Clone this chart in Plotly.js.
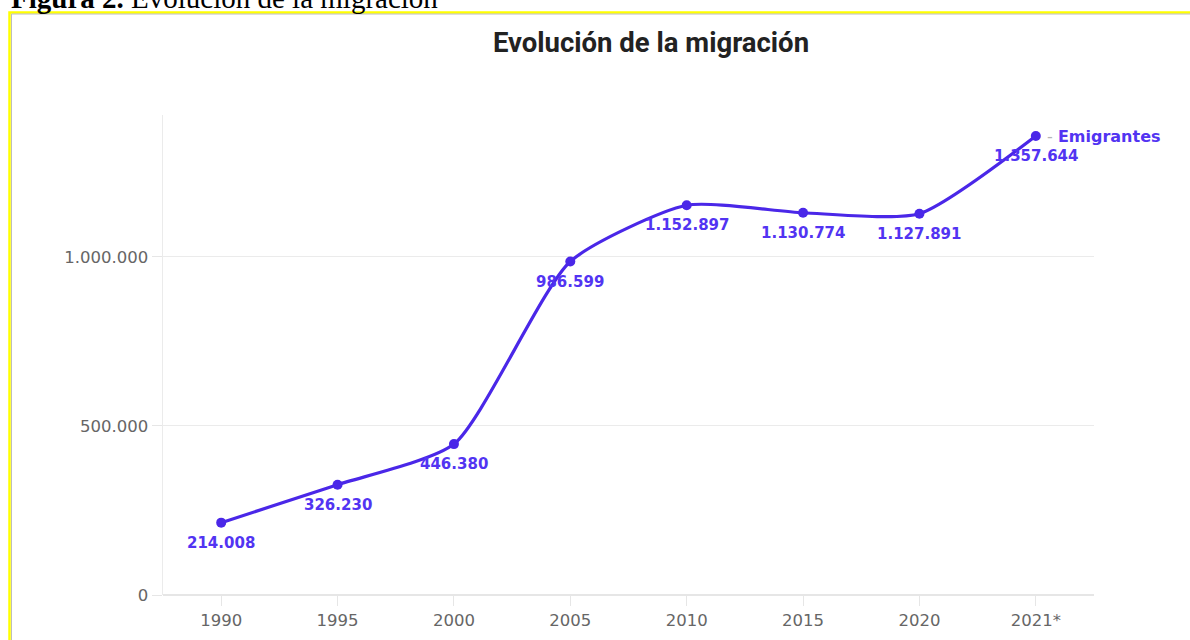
<!DOCTYPE html>
<html>
<head>
<meta charset="utf-8">
<script src="https://cdn.plot.ly/plotly-3.0.1.min.js"></script>
<style>
  html, body { margin: 0; padding: 0; background: #ffffff; }
  #chart { width: 1190px; height: 640px; }
</style>
</head>
<body>
<div id="chart"></div>
<script>
// ---- data ----
const years = ['1990', '1995', '2000', '2005', '2010', '2015', '2020', '2021*'];
const emigrantes = [214008, 326230, 446380, 986599, 1152897, 1130774, 1127891, 1357644];
const seriesName = 'Emigrantes';
const chartTitle = 'Evolución de la migración';
const captionBold = 'Figura 2.';
const captionText = ' Evolución de la migración';
const yTickValues = [0, 500000, 1000000];

// ---- layout helpers (pixel -> paper) ----
const W = 1190, H = 640;
const L = 163, R = 96, T = 115, B = 45;
const PW = W - L - R, PH = H - T - B;
const px = x => (x - L) / PW;
const py = y => (H - B - y) / PH;

const lineColor = '#4a27e8';
const textColor = '#5234f2';

const fmt = v => String(Math.round(v)).replace(/\B(?=(\d{3})+(?!\d))/g, '.');

const trace = {
  type: 'scatter',
  mode: 'lines+markers',
  x: years,
  y: emigrantes,
  name: seriesName,
  line: { color: lineColor, width: 3.2, shape: 'spline', smoothing: 0.6 },
  marker: { color: lineColor, size: 10 },
  hoverinfo: 'skip',
  cliponaxis: false
};

// category axis: annotation x given as the category's serial position
const labelAnnotations = years.map((yr, i) => ({
  xref: 'x', yref: 'y', x: i, y: emigrantes[i],
  xanchor: 'center', yanchor: 'middle', yshift: -20,
  showarrow: false,
  text: '<b>' + fmt(emigrantes[i]) + '</b>',
  font: { family: 'DejaVu Sans', size: 15, color: textColor }
}));

const layout = {
  width: W, height: H,
  margin: { l: L, r: R, t: T, b: B, pad: 0 },
  paper_bgcolor: '#ffffff',
  plot_bgcolor: '#ffffff',
  separators: ',.',
  showlegend: false,
  title: {
    text: '<b>' + chartTitle + '</b>',
    xref: 'container', yref: 'container',
    x: 651 / W, y: 1 - 42 / H,
    xanchor: 'center', yanchor: 'middle',
    font: { family: 'Roboto', size: 27.5, color: '#222222' }
  },
  xaxis: {
    type: 'category',
    range: [-0.5, 7.5],
    showgrid: false,
    zeroline: false,
    showline: false,
    ticks: 'outside', ticklen: 10, tickwidth: 1, tickcolor: '#e6e6e6',
    tickfont: { family: 'DejaVu Sans', size: 16.5, color: '#666666' },
    fixedrange: true
  },
  yaxis: {
    range: [0, 1420000],
    tickvals: yTickValues,
    tickformat: ',.0f',
    showgrid: true, gridcolor: '#ebebeb', gridwidth: 1,
    zeroline: true, zerolinecolor: '#e6e6e6', zerolinewidth: 1.5,
    showline: true, linecolor: '#ebebeb', linewidth: 1.5,
    ticks: 'outside', ticklen: 10, tickwidth: 1, tickcolor: '#e6e6e6',
    tickfont: { family: 'DejaVu Sans', size: 16.5, color: '#666666' },
    fixedrange: true
  },
  shapes: [
    { type: 'rect', xref: 'paper', yref: 'paper',
      x0: px(9.5), x1: px(1200), y0: py(12.5), y1: py(660),
      line: { color: '#ffff00', width: 2.5 }, fillcolor: 'rgba(0,0,0,0)', layer: 'below' },
    { type: 'rect', xref: 'paper', yref: 'paper',
      x0: px(11.5), x1: px(1200), y0: py(14), y1: py(660),
      line: { color: '#bdbdbd', width: 1 }, fillcolor: 'rgba(0,0,0,0)', layer: 'below' }
  ],
  annotations: [
    { xref: 'paper', yref: 'paper', x: px(9), y: py(16),
      xanchor: 'left', yanchor: 'bottom', showarrow: false,
      text: '<b>' + captionBold + '</b>' + captionText,
      font: { family: 'Liberation Serif', size: 29, color: '#000000' } },
    { xref: 'x', yref: 'y', x: years.length - 1, y: emigrantes[emigrantes.length - 1],
      xanchor: 'left', yanchor: 'middle', xshift: 9, showarrow: false,
      text: '<span style="color:#b5b5b5">-</span> <b>' + seriesName + '</b>',
      font: { family: 'DejaVu Sans', size: 16, color: textColor } }
  ].concat(labelAnnotations)
};

Plotly.newPlot('chart', [trace], layout, { displayModeBar: false, staticPlot: true });
</script>
</body>
</html>
